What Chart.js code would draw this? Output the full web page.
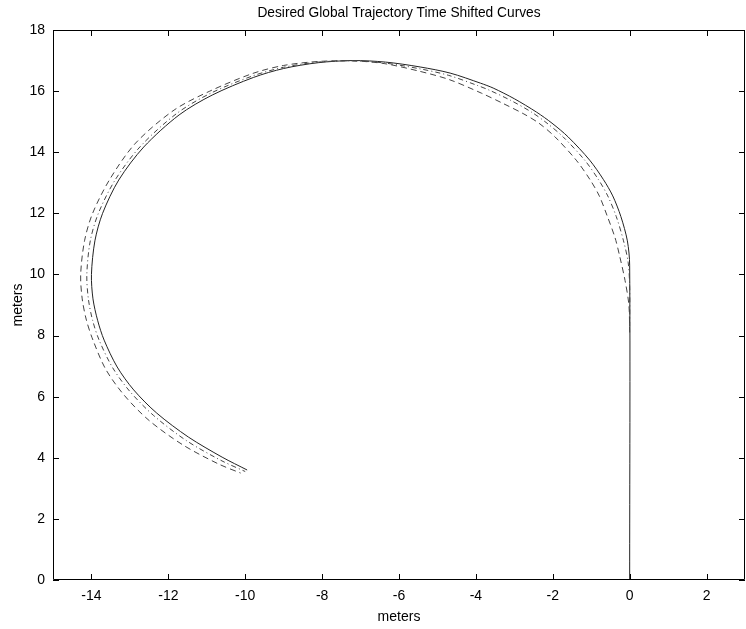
<!DOCTYPE html>
<html>
<head>
<meta charset="utf-8">
<script src="https://cdn.jsdelivr.net/npm/chart.js@4.4.0/dist/chart.umd.min.js"></script>
<style>
  body { margin: 0; background: #fff; }
  canvas { display: block; }
</style>
</head>
<body>
<canvas id="c" width="746" height="629"></canvas>
<script>
const xTicks = [-14, -12, -10, -8, -6, -4, -2, 0, 2]
const yTicks = [0, 2, 4, 6, 8, 10, 12, 14, 16, 18]

// desired trajectory (solid)
const solidX = [0, 0, -0.06, -0.23, -0.44, -0.68, -1.04, -1.6, -2.02, -2.42, -3.0, -3.55, -3.88, -4.67, -5.45, -6.35, -7.2, -8.1, -9.0, -9.78, -10.86, -11.72, -12.64, -13.29, -13.71, -13.91, -14.0, -13.96, -13.84, -13.67, -13.33, -12.9, -12.3, -11.48, -10.6, -9.95]
const solidY = [0, 10.3, 11.1, 11.9, 12.57, 13.1, 13.74, 14.5, 14.95, 15.31, 15.75, 16.1, 16.26, 16.59, 16.79, 16.95, 17.0, 16.93, 16.74, 16.45, 15.87, 15.22, 14.17, 13.09, 12.0, 11.1, 10.0, 9.2, 8.5, 7.85, 6.97, 6.22, 5.46, 4.68, 4.02, 3.6]

// first time shifted curve
const nearX = [0, 0, -0.04, -0.16, -0.35, -0.57, -0.81, -1.17, -1.73, -2.15, -2.55, -3.1, -3.65, -3.95, -4.72, -5.5, -6.38, -7.2, -8.1, -9.0, -9.8, -10.9, -11.78, -12.72, -13.38, -13.82, -14.03, -14.12, -14.08, -13.97, -13.8, -13.45, -13.0, -12.38, -11.54, -10.64, -10.0]
const nearY = [8.3, 9.6, 10.4, 11.1, 11.9, 12.57, 13.1, 13.74, 14.5, 14.95, 15.31, 15.7, 16.03, 16.18, 16.52, 16.74, 16.92, 16.99, 16.95, 16.78, 16.5, 15.93, 15.27, 14.2, 13.1, 12.0, 11.1, 10.0, 9.2, 8.5, 7.85, 6.95, 6.17, 5.38, 4.57, 3.92, 3.55]

// second time shifted curve
const farX = [0, -0.02, -0.12, -0.26, -0.38, -0.58, -0.79, -1.03, -1.39, -1.94, -2.36, -2.75, -3.3, -3.85, -4.7, -5.5, -6.38, -7.2, -8.1, -9.0, -9.8, -10.92, -11.85, -12.85, -13.52, -13.97, -14.18, -14.28, -14.24, -14.13, -13.96, -13.63, -13.15, -12.5, -11.62, -10.7, -10.12]
const farY = [8.1, 9.0, 9.8, 10.6, 11.2, 11.9, 12.57, 13.1, 13.74, 14.5, 14.95, 15.25, 15.6, 15.93, 16.38, 16.66, 16.9, 16.99, 16.97, 16.84, 16.58, 16.0, 15.38, 14.3, 13.12, 12.0, 11.1, 10.0, 9.2, 8.5, 7.85, 6.9, 6.05, 5.22, 4.42, 3.8, 3.5]

const pts = (xs, ys) => xs.map((x, i) => ({ x: x, y: ys[i] }))

const FONT = "'Liberation Sans', Arial, sans-serif"

// matlab style box with ticks pointing inward
const boxTicks = {
  id: 'boxTicks',
  afterDraw(chart) {
    const ctx = chart.ctx
    const a = chart.chartArea
    const xs = chart.scales.x
    const ys = chart.scales.y
    const len = 6
    ctx.save()
    ctx.strokeStyle = "#000"
    ctx.lineWidth = 1
    ctx.beginPath()
    ctx.rect(a.left + 0.5, a.top + 0.5, a.right - a.left - 1, a.bottom - a.top - 1)
    xTicks.forEach(v => {
      const px = Math.round(xs.getPixelForValue(v)) + 0.5
      ctx.moveTo(px, a.bottom)
      ctx.lineTo(px, a.bottom - len)
      ctx.moveTo(px, a.top)
      ctx.lineTo(px, a.top + len)
    })
    yTicks.forEach(v => {
      const py = Math.round(ys.getPixelForValue(v)) + 0.5
      ctx.moveTo(a.left, py)
      ctx.lineTo(a.left + len, py)
      ctx.moveTo(a.right, py)
      ctx.lineTo(a.right - len, py)
    })
    ctx.stroke()
    ctx.restore()
  }
}

new Chart(document.getElementById("c").getContext("2d"), {
  type: "scatter",
  data: {
    datasets: [
      {
        data: pts(farX, farY),
        showLine: true,
        borderColor: "#444",
        borderWidth: 1,
        borderDash: [6, 4],
        pointRadius: 0,
        tension: 0.3
      },
      {
        data: pts(nearX, nearY),
        showLine: true,
        borderColor: "#444",
        borderWidth: 1,
        borderDash: [5, 3, 1, 3],
        pointRadius: 0,
        tension: 0.3
      },
      {
        data: pts(solidX, solidY),
        showLine: true,
        borderColor: "#222",
        borderWidth: 1,
        pointRadius: 0,
        tension: 0.3
      }
    ]
  },
  options: {
    responsive: false,
    animation: false,
    layout: { padding: { left: 0, right: 1, top: 0, bottom: 0 } },
    plugins: {
      legend: { display: false },
      tooltip: { enabled: false },
      title: {
        display: true,
        fullSize: false,
        text: "Desired Global Trajectory Time Shifted Curves",
        color: "#000",
        font: { family: FONT, size: 13.75, weight: "normal", lineHeight: 1.2 },
        padding: { top: 5, bottom: 8.5 }
      }
    },
    scales: {
      x: {
        type: "linear",
        min: -15,
        max: 3,
        afterBuildTicks: (s) => { s.ticks = xTicks.map(v => ({ value: v })) },
        afterFit: (s) => { s.height = 49 },
        grid: { drawOnChartArea: false, drawTicks: false },
        border: { display: false },
        ticks: {
          color: "#000",
          padding: 8,
          maxRotation: 0,
          font: { family: FONT, size: 14 }
        },
        title: {
          display: true,
          text: "meters",
          color: "#000",
          font: { family: FONT, size: 14 },
          padding: { top: 0, bottom: 3 }
        }
      },
      y: {
        type: "linear",
        min: 0,
        max: 18,
        afterBuildTicks: (s) => { s.ticks = yTicks.map(v => ({ value: v })) },
        afterFit: (s) => { s.width = 53 },
        grid: { drawOnChartArea: false, drawTicks: false },
        border: { display: false },
        ticks: {
          color: "#000",
          padding: 8,
          font: { family: FONT, size: 14 }
        },
        title: {
          display: true,
          text: "meters",
          color: "#000",
          font: { family: FONT, size: 14 },
          padding: { top: 10, bottom: 0 }
        }
      }
    }
  },
  plugins: [boxTicks]
})
</script>
</body>
</html>
